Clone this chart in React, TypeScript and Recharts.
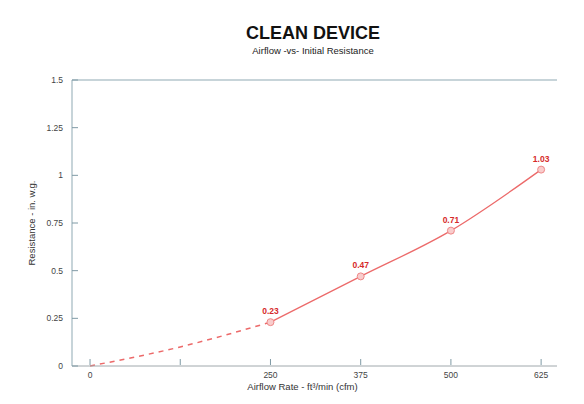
import { LineChart, Line, XAxis, YAxis, LabelList, Label, ReferenceLine } from 'recharts';

const airflow = [0, 250, 375, 500, 625];
const resistance = [0, 0.23, 0.47, 0.71, 1.03];
// estimated mid point of the dashed lead-in curve
const leadInX = 125;
const leadInY = 0.1;
const xTicks = [0, 125, 250, 375, 500, 625];
const xTickLabels = ['0', '', '250', '375', '500', '625'];
const yTicks = [0, 0.25, 0.5, 0.75, 1, 1.25, 1.5];
const yTickLabels = ['0', '0.25', '0.5', '0.75', '1', '1.25', '1.5'];

// first segment (0 -> 250) is dashed, the rest solid
const data = [
  { x: airflow[0], dashed: resistance[0], solid: null },
  { x: leadInX, dashed: leadInY, solid: null },
  ...airflow.slice(1).map((x, i) => ({
    x,
    dashed: i === 0 ? resistance[1] : null,
    solid: resistance[i + 1],
  })),
];

const FONT = '"Liberation Sans", Arial, sans-serif';
const LINE = '#ec6a6a';
const AXIS = '#8fa9b3';
const LEFT = 22;
const YW = 50;

const YTick = (props: any) => {
  const { x, y, payload } = props;
  const i = yTicks.indexOf(payload.value);
  const ax = LEFT + YW;
  return (
    <g>
      <path d={`M${ax},${y}h6`} stroke="#7f9aa5" strokeWidth={1} fill="none" />
      <text x={x - 1} y={y} dy={3} textAnchor="end" fontSize={8.5} fill="#444" fontFamily={FONT}>
        {yTickLabels[i]}
      </text>
    </g>
  );
};

const XTick = (props: any) => {
  const { x, y, payload } = props;
  const i = xTicks.indexOf(payload.value);
  return (
    <g>
      <path d={`M${x},${y - 9}v-6`} stroke="#7f9aa5" strokeWidth={1} fill="none" />
      <text x={x} y={y + 4} textAnchor="middle" fontSize={8.5} fill="#444" fontFamily={FONT}>
        {xTickLabels[i]}
      </text>
    </g>
  );
};

export default function App() {
  return (
    <div style={{ position: 'absolute', left: 0, top: 0, width: 584, height: 404, background: '#fff', fontFamily: FONT }}>
      <div style={{ position: 'absolute', top: 23, left: 0, width: 626, textAlign: 'center', fontSize: 18, fontWeight: 'bold', color: '#111' }}>
        CLEAN DEVICE
      </div>
      <div style={{ position: 'absolute', top: 45, left: 0, width: 626, textAlign: 'center', fontSize: 9.5, color: '#222' }}>
        Airflow -vs- Initial Resistance
      </div>
      <LineChart width={584} height={404} data={data} margin={{ top: 80, right: 27, bottom: 18, left: LEFT }}>
        <XAxis
          dataKey="x"
          type="number"
          domain={[-25, 647]}
          ticks={xTicks}
          tick={<XTick />}
          tickLine={false}
          tickSize={0}
          tickMargin={8}
          height={20}
          stroke="#a0a8ac"
          interval={0}
        >
          <Label value="Airflow Rate - ft³/min (cfm)" position="insideBottom" offset={-4} dx={-12} fontSize={9.5} fill="#333" fontFamily={FONT} />
        </XAxis>
        <YAxis
          type="number"
          domain={[0, 1.5]}
          ticks={yTicks}
          tick={<YTick />}
          tickLine={false}
          tickSize={0}
          tickMargin={8}
          width={YW}
          stroke={AXIS}
          interval={0}
        >
          <Label value="Resistance - in. w.g." angle={-90} position="insideLeft" offset={10} textAnchor="middle" fontSize={9.5} fill="#333" fontFamily={FONT} />
        </YAxis>
        <YAxis yAxisId="right" orientation="right" domain={[0, 1.5]} tick={false} tickLine={false} width={0} stroke={AXIS} />
        <ReferenceLine y={1.5} stroke={AXIS} strokeWidth={1} />
        <Line
          dataKey="dashed"
          type="monotone"
          stroke={LINE}
          strokeWidth={1.5}
          strokeDasharray="5 5"
          dot={false}
          connectNulls={false}
          isAnimationActive={false}
        />
        <Line
          dataKey="solid"
          type="monotone"
          stroke={LINE}
          strokeWidth={1.3}
          dot={{ r: 3.5, fill: '#f9cccc', stroke: '#ee8888', strokeWidth: 1 }}
          connectNulls={false}
          isAnimationActive={false}
        >
          <LabelList
            dataKey="solid"
            position="top"
            offset={8}
            formatter={(v: any) => (v == null ? '' : Number(v).toFixed(2))}
            fontSize={8.5}
            fontWeight="bold"
            fill="#d62a2a"
            fontFamily={FONT}
          />
        </Line>
      </LineChart>
    </div>
  );
}
